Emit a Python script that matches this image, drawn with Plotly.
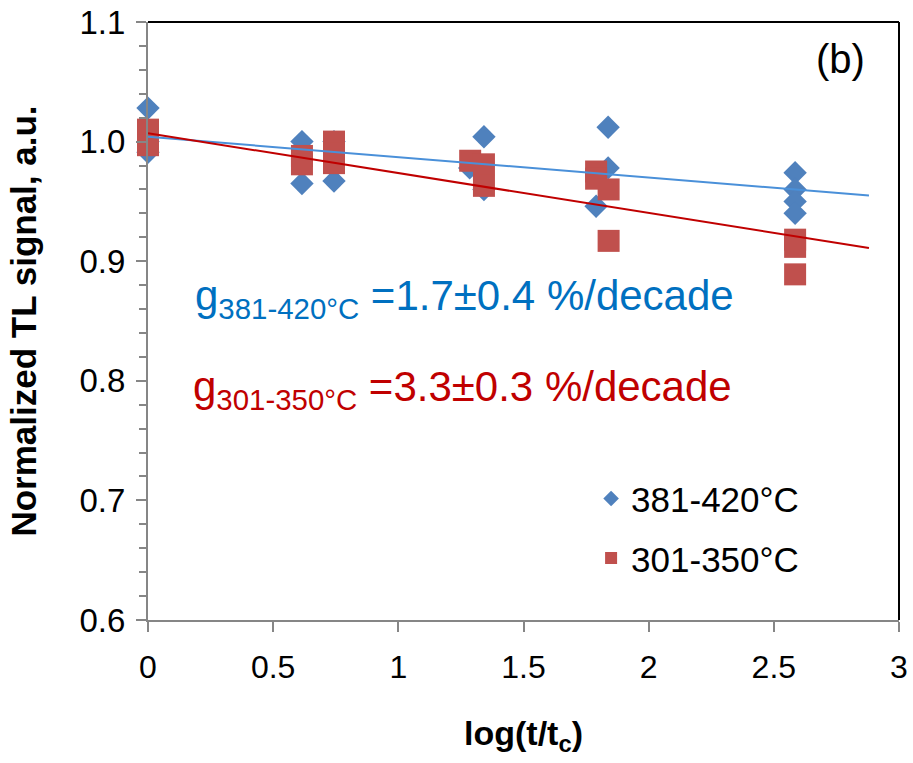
import plotly.graph_objects as go

# Data: log(t/tc) and normalized TL signal
x_hi = [0, 0, 0, 0.615, 0.615, 0.743, 0.743, 1.285, 1.342, 1.342, 1.79, 1.838, 1.838, 2.585, 2.585, 2.585, 2.585]
y_hi = [1.028, 0.991, 1.000, 1.000, 0.965, 1.000, 0.967, 0.978, 1.004, 0.960, 0.946, 1.012, 0.978, 0.974, 0.960, 0.950, 0.940]

x_lo = [0, 0, 0, 0.615, 0.615, 0.743, 0.743, 0.743, 1.287, 1.342, 1.342, 1.79, 1.79, 1.84, 1.84, 2.585, 2.585, 2.585]
y_lo = [1.010, 1.003, 0.997, 0.988, 0.981, 1.000, 0.990, 0.982, 0.984, 0.981, 0.963, 0.975, 0.969, 0.960, 0.917, 0.918, 0.912, 0.889]

fit_x = [0, 2.88]
fit_hi = [1.004, 0.955]
fit_lo = [1.007, 0.911]

FONT = "Liberation Sans, Arial, sans-serif"

fig = go.Figure()
fig.add_trace(go.Scatter(x=x_hi, y=y_hi, mode="markers", name="381-420°C",
                         legendgroup="a", cliponaxis=False,
                         marker=dict(symbol="diamond", size=18, color="#4F81BD",
                                     line=dict(width=0))))
fig.add_trace(go.Scatter(x=x_lo, y=y_lo, mode="markers", name="301-350°C",
                         legendgroup="b", cliponaxis=False,
                         marker=dict(symbol="square", size=22, color="#C0504D",
                                     line=dict(width=0))))
fig.add_trace(go.Scatter(x=fit_x, y=fit_hi, mode="lines", showlegend=False,
                         line=dict(color="#4A90D9", width=2)))
fig.add_trace(go.Scatter(x=fit_x, y=fit_lo, mode="lines", showlegend=False,
                         line=dict(color="#C00000", width=2)))

fig.update_layout(
    width=913, height=763,
    margin=dict(l=148, r=14, t=22, b=143),
    plot_bgcolor="white", paper_bgcolor="white",
    font=dict(family=FONT, size=32, color="black"),
    legend=dict(x=0.590, y=0.252, xanchor="left", yanchor="top",
                font=dict(size=35), tracegroupgap=11, bgcolor="rgba(0,0,0,0)",
                itemsizing="constant"),
    xaxis=dict(range=[0, 3], tickvals=[0, 0.5, 1, 1.5, 2, 2.5, 3],
               ticktext=["0", "0.5", "1", "1.5", "2", "2.5", "3"],
               automargin=False,
               showgrid=False, zeroline=False, showline=True,
               linecolor="#868686", linewidth=2,
               ticks="outside", ticklen=10, tickwidth=2, tickcolor="#868686",
               ticklabelstandoff=8,
               tickfont=dict(size=32),
               title=dict(text="<b>log(t/t<sub>c</sub>)</b>", font=dict(size=34), standoff=37)),
    yaxis=dict(range=[0.6, 1.1], dtick=0.1, tick0=0.6, tickformat=".1f",
               automargin=False,
               showgrid=False, zeroline=False, showline=True,
               linecolor="#868686", linewidth=2,
               ticks="outside", ticklen=10, tickwidth=2, tickcolor="#868686",
               ticklabelstandoff=4,
               minor=dict(dtick=0.02, ticks="outside", ticklen=7, tickwidth=2,
                          tickcolor="#868686"),
               tickfont=dict(size=33),
               title=dict(text="<b>Normalized TL signal, a.u.</b>", font=dict(size=35), standoff=32)),
)

# black top and right frame
fig.add_shape(type="line", xref="paper", yref="paper", x0=0, x1=1, y0=1, y1=1,
              line=dict(color="black", width=2))
fig.add_shape(type="line", xref="paper", yref="paper", x0=1, x1=1, y0=0, y1=1,
              line=dict(color="black", width=2))

fig.add_annotation(x=0.18, y=0.8686, xref="x", yref="y", xanchor="left", yanchor="middle",
                   showarrow=False,
                   text="g<sub>381-420°C</sub> =1.7±0.4 %/decade",
                   font=dict(size=42, color="#0070C0"))
fig.add_annotation(x=0.172, y=0.793, xref="x", yref="y", xanchor="left", yanchor="middle",
                   showarrow=False,
                   text="g<sub>301-350°C</sub> =3.3±0.3 %/decade",
                   font=dict(size=42, color="#C00000"))
fig.add_annotation(x=2.765, y=1.069, xref="x", yref="y", showarrow=False,
                   text="(b)", font=dict(size=40, color="black"))

fig.write_html("out.html")
